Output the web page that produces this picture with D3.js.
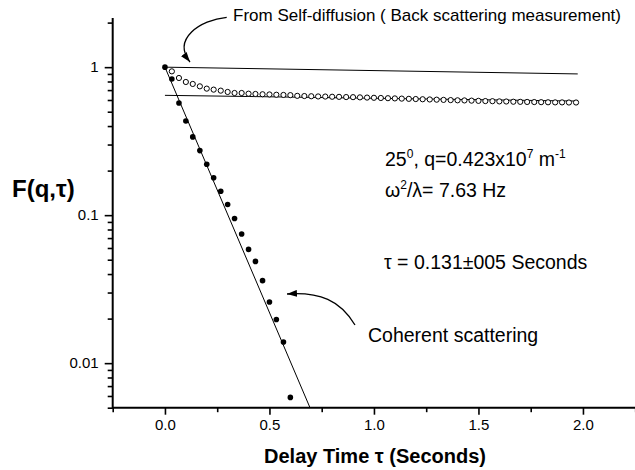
<!DOCTYPE html>
<html><head><meta charset="utf-8">
<script src="https://cdn.jsdelivr.net/npm/d3@7"></script>
<style>body{margin:0;background:#fff}svg{display:block}text{font-family:"Liberation Sans",Arial,Helvetica,sans-serif;fill:#000}</style>
</head><body><svg id="c" width="635" height="470"></svg>
<script>
// ---- data ----
const coherentTau = [0,0.033,0.067,0.100,0.133,0.167,0.200,0.233,0.267,0.300,0.333,0.367,0.400,0.433,0.467,0.500,0.533,0.567,0.600];
const coherentF   = [1.0,0.832,0.573,0.433,0.338,0.273,0.221,0.179,0.145,0.118,0.095,0.0746,0.0587,0.0487,0.0361,0.0259,0.0197,0.0139,0.00587];
const selfTau = [0.033,0.067,0.100,0.133,0.167,0.200,0.233,0.267,0.300,0.333,0.367,0.400,0.433,0.467,0.500,0.533,0.567,0.600,0.633,0.667,
                 0.700,0.733,0.767,0.800,0.833,0.867,0.900,0.933,0.967,1.000,1.033,1.067,1.100,1.133,1.167,1.200,1.233,1.267,1.300,1.333,
                 1.367,1.400,1.433,1.467,1.500,1.533,1.567,1.600,1.633,1.667,1.700,1.733,1.767,1.800,1.833,1.867,1.900,1.933,1.967];
const selfF = [0.937,0.845,0.794,0.770,0.742,0.716,0.705,0.694,0.680,0.669,0.669,0.662,0.659,0.656,0.654,0.651,0.649,0.647,0.640,0.638,
               0.636,0.634,0.633,0.631,0.630,0.628,0.627,0.625,0.623,0.621,0.619,0.617,0.615,0.613,0.611,0.609,0.607,0.605,0.603,0.601,
               0.599,0.597,0.596,0.594,0.592,0.590,0.589,0.587,0.586,0.584,0.583,0.582,0.581,0.580,0.579,0.578,0.578,0.577,0.577];
const fitTau = [0, 0.694];          // exp fit, tau = 0.131 s
const fitF   = [1, 0.005];
const selfDiffTau = [0, 1.975];     // from self-diffusion
const selfDiffF   = [1, 0.90];
const plateauTau  = [0, 1.975];
const plateauF    = [0.645, 0.590];
const xMajor = [0, 0.5, 1.0, 1.5, 2.0];
const xMinor = [-0.25, 0.25, 0.75, 1.25, 1.75, 2.25];
const yMajor = [1, 0.1, 0.01];
const yMinor = [2, 0.9,0.8,0.7,0.6,0.5,0.4,0.3,0.2, 0.09,0.08,0.07,0.06,0.05,0.04,0.03,0.02, 0.009,0.008,0.007,0.006,0.005];
const arrow1 = [[0.2955,2.172],[0.1677,2.083],[0.0337,1.549],[0.1198,1.083]];
const arrow2 = [[0.9093,0.01811],[0.8376,0.02672],[0.7419,0.03027],[0.5840,0.02933]];

// ---- chart ----
const svg = d3.select("#c");
const x = d3.scaleLinear().domain([-0.25, 2.25]).range([112.7, 635.2]);
const y = d3.scaleLog().domain([0.005, 2.15]).range([407.7, 17.96]);

svg.append("defs").append("marker")
  .attr("id","ah").attr("viewBox","0 0 10 7").attr("refX",10).attr("refY",3.5)
  .attr("markerWidth",10).attr("markerHeight",7).attr("markerUnits","userSpaceOnUse")
  .attr("orient","auto")
  .append("path").attr("d","M0,0 L10,3.5 L0,7 z").attr("fill","#000");

// axes
const xAxisMajor = d3.axisBottom(x).tickValues(xMajor).tickFormat(d3.format(".1f")).tickSize(7).tickSizeOuter(0).tickPadding(5);
const xAxisMinor = d3.axisBottom(x).tickValues(xMinor).tickFormat("").tickSize(4.5).tickSizeOuter(0);
const yAxisMajor = d3.axisLeft(y).tickValues(yMajor).tickFormat(d => d3.format("~g")(d)).tickSize(8).tickSizeOuter(0).tickPadding(6);
const yAxisMinor = d3.axisLeft(y).tickValues(yMinor).tickFormat("").tickSize(5).tickSizeOuter(0);

function styleAxis(g){
  g.select(".domain").remove();
  g.selectAll(".tick line").attr("stroke","#000").attr("stroke-width",1.6);
  g.selectAll(".tick text").attr("font-size",15).attr("fill","#000").style("font-family",'"Liberation Sans",Arial,sans-serif');
}
svg.append("g").attr("transform",`translate(0,${y.range()[0]})`).call(xAxisMinor).call(styleAxis);
svg.append("g").attr("transform",`translate(0,${y.range()[0]})`).call(xAxisMajor).call(styleAxis);
svg.append("g").attr("transform",`translate(${x.range()[0]},0)`).call(yAxisMinor).call(styleAxis);
svg.append("g").attr("transform",`translate(${x.range()[0]},0)`).call(yAxisMajor).call(styleAxis);

svg.append("line").attr("x1",x.range()[0]).attr("x2",x.range()[1]).attr("y1",y.range()[0]).attr("y2",y.range()[0])
  .attr("stroke","#000").attr("stroke-width",2);
svg.append("line").attr("x1",x.range()[0]).attr("x2",x.range()[0]).attr("y1",y.range()[1]).attr("y2",y.range()[0]+1)
  .attr("stroke","#000").attr("stroke-width",2);

// lines
const line = d3.line().x(d => x(d[0])).y(d => y(d[1]));
function drawLine(ts, fs){
  svg.append("path").datum(ts.map((t,i)=>[t,fs[i]])).attr("d",line)
    .attr("fill","none").attr("stroke","#000").attr("stroke-width",1);
}
drawLine(fitTau, fitF);
drawLine(selfDiffTau, selfDiffF);
drawLine(plateauTau, plateauF);

// points
svg.append("g").selectAll("circle").data(selfTau.map((t,i)=>[t,selfF[i]])).join("circle")
  .attr("cx",d=>x(d[0])).attr("cy",d=>y(d[1])).attr("r",2.6)
  .attr("fill","#fff").attr("stroke","#000").attr("stroke-width",1);
svg.append("g").selectAll("circle").data(coherentTau.map((t,i)=>[t,coherentF[i]])).join("circle")
  .attr("cx",d=>x(d[0])).attr("cy",d=>y(d[1])).attr("r",2.8).attr("fill","#000");

// arrows
const curve = pts => {
  const p = pts.map(d=>[x(d[0]), y(d[1])]);
  return `M${p[0]}C${p[1]} ${p[2]} ${p[3]}`;
};
svg.append("path").attr("d",curve(arrow1)).attr("fill","none").attr("stroke","#000").attr("stroke-width",1.3).attr("marker-end","url(#ah)");
svg.append("path").attr("d",curve(arrow2)).attr("fill","none").attr("stroke","#000").attr("stroke-width",1.3).attr("marker-end","url(#ah)");

// texts
const fs = 19.5, sup = 12, sh = 8;
svg.append("text").attr("x",233).attr("y",21).attr("font-size",17)
  .text("From Self-diffusion ( Back scattering measurement)");
const t1 = svg.append("text").attr("x",385).attr("y",166).attr("font-size",fs);
t1.append("tspan").text("25");
t1.append("tspan").attr("dy",-sh).attr("font-size",sup).text("0");
t1.append("tspan").attr("dy",sh).text(", q=0.423x10");
t1.append("tspan").attr("dy",-sh).attr("font-size",sup).text("7");
t1.append("tspan").attr("dy",sh).text(" m");
t1.append("tspan").attr("dy",-sh).attr("font-size",sup).text("-1");
const t2 = svg.append("text").attr("x",385).attr("y",197).attr("font-size",fs);
t2.append("tspan").text("ω");
t2.append("tspan").attr("dy",-sh).attr("font-size",sup).text("2");
t2.append("tspan").attr("dy",sh).text("/λ= 7.63 Hz");
svg.append("text").attr("x",384).attr("y",269).attr("font-size",fs).text("τ = 0.131±005 Seconds");
svg.append("text").attr("x",368).attr("y",342).attr("font-size",fs).text("Coherent scattering");

svg.append("text").attr("x",375).attr("y",463).attr("text-anchor","middle").attr("font-size",20).attr("font-weight","bold")
  .text("Delay Time τ (Seconds)");
svg.append("text").attr("x",12).attr("y",197).attr("font-size",24).attr("font-weight","bold").text("F(q,τ)");
</script></body></html>
